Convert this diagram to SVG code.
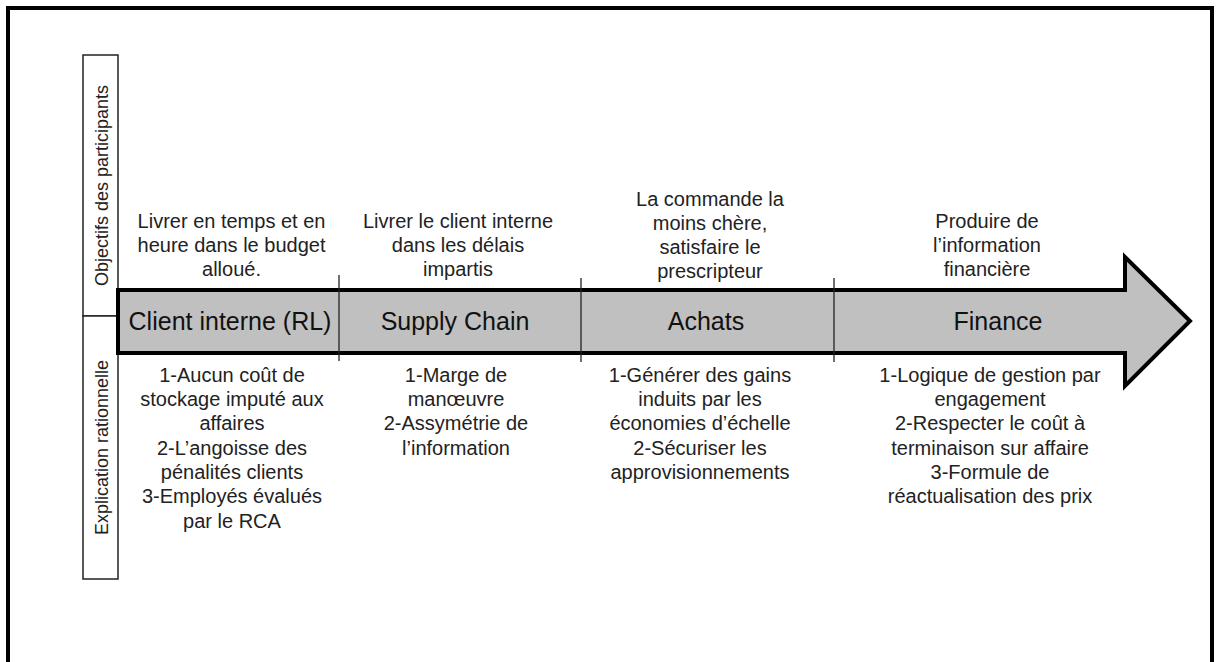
<svg xmlns="http://www.w3.org/2000/svg" width="1220" height="662" viewBox="0 0 1220 662">
<style>
.t{font-family:"Liberation Sans",Arial,sans-serif;font-size:20px;fill:#222;text-anchor:middle}
.lbl{font-family:"Liberation Sans",Arial,sans-serif;font-size:25px;fill:#111;text-anchor:middle}
.side{font-family:"Liberation Sans",Arial,sans-serif;font-size:18px;fill:#222;text-anchor:middle}
.box{fill:#fff;stroke:#222;stroke-width:1.5}
.div{stroke:#222;stroke-width:1.3}
</style>
<rect x="8" y="8" width="1204" height="700" fill="#fff" stroke="#000" stroke-width="4"/>
<g id="side-objectifs">
<rect class="box" x="83" y="55" width="35" height="261"/>
<text class="side" transform="translate(107.5,185.5) rotate(-90)">Objectifs des participants</text>
</g>
<g id="side-explication">
<rect class="box" x="83" y="316" width="35" height="263"/>
<text class="side" transform="translate(107.5,447.5) rotate(-90)">Explication rationnelle</text>
</g>
<g id="arrow">
<path d="M118,290 H1125 V257 L1190,321 L1125,386 V353 H118 Z" fill="#c0c0c0" stroke="#000" stroke-width="4" stroke-linejoin="miter"/>
</g>
<g id="connectors">
<line class="div" x1="339" y1="275" x2="339" y2="361"/>
<line class="div" x1="581" y1="278" x2="581" y2="362"/>
<line class="div" x1="834" y1="278" x2="834" y2="362"/>
</g>
<g id="client-interne">
<text class="lbl" x="230" y="330">Client interne (RL)</text>
<text class="t" x="231.5" y="228">Livrer en temps et en</text>
<text class="t" x="231.5" y="252">heure dans le budget</text>
<text class="t" x="231.5" y="276">alloué.</text>
<text class="t" x="232" y="382">1-Aucun coût de</text>
<text class="t" x="232" y="406">stockage imputé aux</text>
<text class="t" x="232" y="430">affaires</text>
<text class="t" x="232" y="455">2-L’angoisse des</text>
<text class="t" x="232" y="479">pénalités clients</text>
<text class="t" x="232" y="503">3-Employés évalués</text>
<text class="t" x="232" y="528">par le RCA</text>
</g>
<g id="supply-chain">
<text class="lbl" x="455" y="330">Supply Chain</text>
<text class="t" x="458" y="228">Livrer le client interne</text>
<text class="t" x="458" y="252">dans les délais</text>
<text class="t" x="458" y="276">impartis</text>
<text class="t" x="456" y="382">1-Marge de</text>
<text class="t" x="456" y="406">manœuvre</text>
<text class="t" x="456" y="430">2-Assymétrie de</text>
<text class="t" x="456" y="455">l’information</text>
</g>
<g id="achats">
<text class="lbl" x="706" y="330">Achats</text>
<text class="t" x="710" y="206">La commande la</text>
<text class="t" x="710" y="230">moins chère,</text>
<text class="t" x="710" y="254">satisfaire le</text>
<text class="t" x="710" y="278">prescripteur</text>
<text class="t" x="700" y="382">1-Générer des gains</text>
<text class="t" x="700" y="406">induits par les</text>
<text class="t" x="700" y="430">économies d’échelle</text>
<text class="t" x="700" y="455">2-Sécuriser les</text>
<text class="t" x="700" y="479">approvisionnements</text>
</g>
<g id="finance">
<text class="lbl" x="998" y="330">Finance</text>
<text class="t" x="987" y="228">Produire de</text>
<text class="t" x="987" y="252">l’information</text>
<text class="t" x="987" y="276">financière</text>
<text class="t" x="990" y="382">1-Logique de gestion par</text>
<text class="t" x="990" y="406">engagement</text>
<text class="t" x="990" y="430">2-Respecter le coût à</text>
<text class="t" x="990" y="455">terminaison sur affaire</text>
<text class="t" x="990" y="479">3-Formule de</text>
<text class="t" x="990" y="503">réactualisation des prix</text>
</g>
</svg>
